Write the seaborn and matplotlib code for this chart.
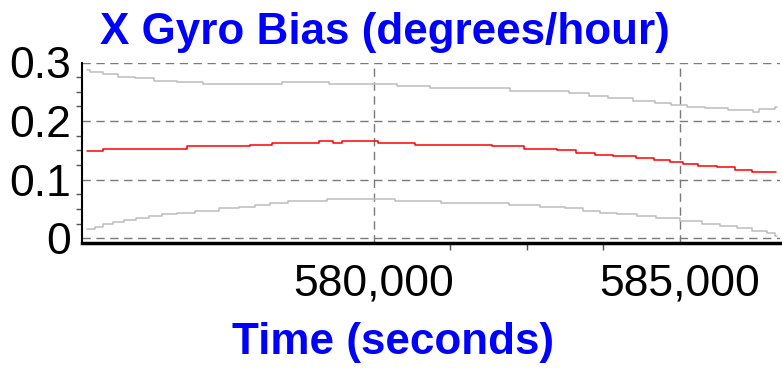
import pandas as pd
import matplotlib.pyplot as plt
import matplotlib.ticker as mticker
import seaborn as sns

# step values (time where each step starts, value)
mid_t = [575320, 575580, 576960, 577990, 578350, 579110, 579330, 579480, 580080,
         580680, 581940, 582460, 583000, 583300, 583610, 583910, 584280, 584580,
         584830, 585050, 585300, 585600, 585890, 586180, 586570]
mid_v = [0.149, 0.153, 0.157, 0.160, 0.163, 0.166, 0.162, 0.166, 0.163,
         0.160, 0.157, 0.153, 0.150, 0.146, 0.143, 0.140, 0.137, 0.133,
         0.130, 0.127, 0.124, 0.121, 0.117, 0.114, 0.114]

upper_t = [575330, 575370, 575590, 575830, 576100, 576420, 576790, 577220, 578500,
           579280, 580390, 580920, 582230, 583190, 583520, 583830, 584230, 584590,
           584850, 585110, 585410, 585790, 586190, 586290, 586550, 586580]
upper_v = [0.2865, 0.283, 0.280, 0.276, 0.273, 0.269, 0.267, 0.263, 0.267,
           0.263, 0.260, 0.256, 0.252, 0.248, 0.243, 0.239, 0.235, 0.231,
           0.228, 0.224, 0.222, 0.219, 0.216, 0.220, 0.224, 0.224]

lower_t = [575320, 575450, 575590, 575750, 575930, 576130, 576340, 576540, 576790,
           577090, 577480, 577810, 578060, 578310, 578610, 579240, 580350, 581100,
           582210, 582720, 583120, 583410, 583700, 583980, 584300, 584610, 585000,
           585360, 585650, 585930, 586170, 586420, 586550, 586580]
lower_v = [0.016, 0.020, 0.024, 0.027, 0.031, 0.034, 0.038, 0.041, 0.044,
           0.047, 0.051, 0.054, 0.057, 0.060, 0.063, 0.067, 0.064, 0.060,
           0.057, 0.054, 0.051, 0.047, 0.044, 0.041, 0.038, 0.034, 0.030,
           0.024, 0.021, 0.017, 0.013, 0.0085, 0.004, 0.004]

x_ticks = [580000, 585000]
x_labels = ['580,000', '585,000']
x_minor = [581250, 582500, 583750]
y_ticks = [0, 0.1, 0.2, 0.3]
y_labels = ['0', '0.1', '0.2', '0.3']

df = pd.concat([
    pd.DataFrame({'time': upper_t, 'bias': upper_v, 'series': 'upper'}),
    pd.DataFrame({'time': lower_t, 'bias': lower_v, 'series': 'lower'}),
    pd.DataFrame({'time': mid_t, 'bias': mid_v, 'series': 'estimate'}),
])

sns.set_style("white")
plt.rcParams['font.family'] = ['Liberation Sans', 'DejaVu Sans']

fig = plt.figure(figsize=(7.82, 3.7), dpi=100)
ax = fig.add_axes([82/782, 1-243/370, (780-82)/782, (243-62.5)/370])

sns.lineplot(data=df, x='time', y='bias', hue='series', units='series', estimator=None,
             palette={'upper': '#bdbdbd', 'lower': '#bdbdbd', 'estimate': '#ff0000'},
             drawstyle='steps-post', linewidth=1.1, legend=False, ax=ax, zorder=3)

ax.set_xlim(575242, 586632)
ax.set_ylim(-0.008, 0.3)
ax.set_xticks(x_ticks)
ax.set_xticklabels(x_labels)
ax.xaxis.set_minor_locator(mticker.FixedLocator(x_minor))
ax.set_yticks(y_ticks)
ax.set_yticklabels(y_labels)
ax.yaxis.set_minor_locator(mticker.MultipleLocator(0.025))

ax.grid(which='major', linestyle=(0, (6, 4)), color='#7a7a7a', linewidth=1)
ax.tick_params(axis='both', which='major', labelsize=32, colors='#555555', labelcolor='black')
ax.tick_params(axis='x', which='major', length=10, width=1, pad=5)
ax.tick_params(axis='y', which='major', length=6, width=1, pad=2)
ax.tick_params(axis='x', which='minor', length=5, width=1, colors='#555555', bottom=True)
ax.tick_params(axis='y', which='minor', length=4, width=1, colors='#555555', left=True)

for s in ['top', 'right']:
    ax.spines[s].set_visible(False)
ax.spines['left'].set_color('black')
ax.spines['left'].set_linewidth(1.5)
ax.spines['bottom'].set_color('black')
ax.spines['bottom'].set_linewidth(2.5)
ax.set_xlabel('')
ax.set_ylabel('')

fig.text(0.492, 1-44/370, 'X Gyro Bias (degrees/hour)', ha='center', va='baseline',
         fontsize=31.7, fontweight='bold', color='#0000ff')
fig.text(0.502, 1-354/370, 'Time (seconds)', ha='center', va='baseline',
         fontsize=31.7, fontweight='bold', color='#0000ff')

fig.savefig('out.png', dpi=100)
